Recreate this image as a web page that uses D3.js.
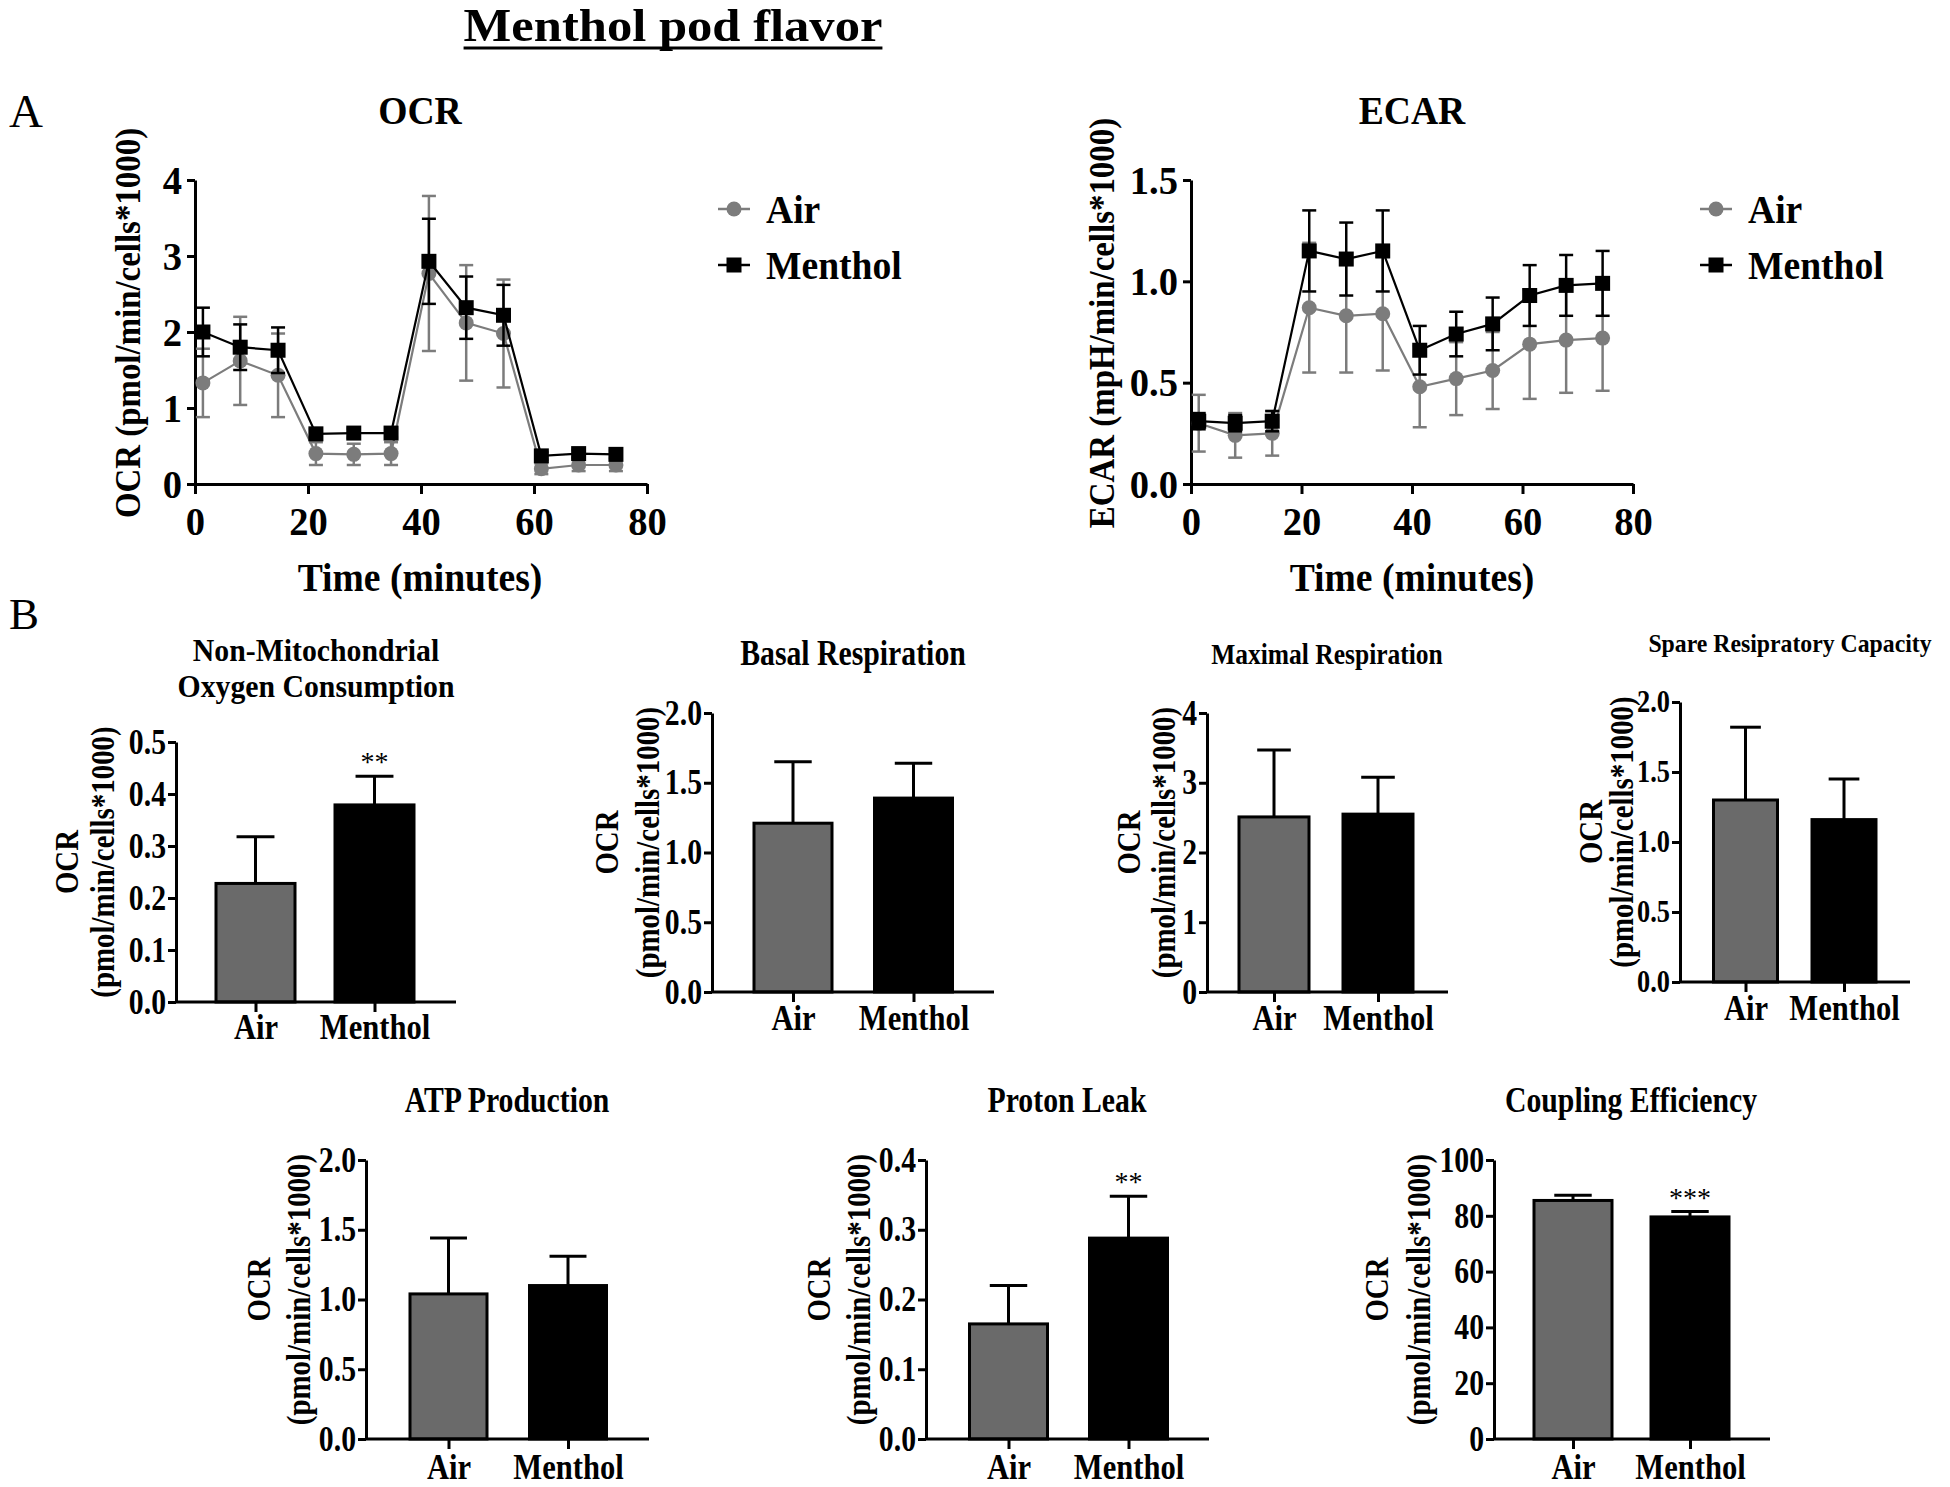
<!DOCTYPE html>
<html><head><meta charset="utf-8">
<script src="https://cdn.jsdelivr.net/npm/d3@7"></script>
<style>
html,body{margin:0;padding:0;background:#fff;}
svg text{font-family:"Liberation Serif","Times New Roman",serif;fill:#000;}
</style></head><body>
<svg id="c" width="1950" height="1487"></svg>
<script>
// ---------------- DATA ----------------
const groups = ["Air", "Menthol"];
const timePoints = [1.4, 8.0, 14.7, 21.4, 28.1, 34.7, 41.4, 48.0, 54.6, 61.3, 67.9, 74.5];
const timeTicks = [0, 20, 40, 60, 80];

const ocrAir        = [1.33, 1.62, 1.43, 0.40, 0.39, 0.40, 2.77, 2.12, 1.98, 0.20, 0.25, 0.25];
const ocrAirErr     = [0.45, 0.58, 0.55, 0.15, 0.14, 0.15, 1.02, 0.76, 0.71, 0.07, 0.08, 0.08];
const ocrMenthol    = [2.00, 1.80, 1.76, 0.66, 0.67, 0.67, 2.93, 2.32, 2.22, 0.37, 0.40, 0.39];
const ocrMentholErr = [0.32, 0.30, 0.30, 0.06, 0.06, 0.06, 0.56, 0.41, 0.40, 0.05, 0.05, 0.05];
const ocrTicks = [0, 1, 2, 3, 4];

const ecarAir        = [0.30, 0.24, 0.25, 0.87, 0.83, 0.84, 0.48, 0.52, 0.56, 0.69, 0.71, 0.72];
const ecarAirErr     = [0.14, 0.11, 0.11, 0.32, 0.28, 0.28, 0.20, 0.18, 0.19, 0.27, 0.26, 0.26];
const ecarMenthol    = [0.31, 0.30, 0.31, 1.15, 1.11, 1.15, 0.66, 0.74, 0.79, 0.93, 0.98, 0.99];
const ecarMentholErr = [0.04, 0.04, 0.05, 0.20, 0.18, 0.20, 0.12, 0.11, 0.13, 0.15, 0.15, 0.16];
const ecarTicks = [0, 0.5, 1.0, 1.5];

const barTitles = [["Non-Mitochondrial", "Oxygen Consumption"], ["Basal Respiration"], ["Maximal Respiration"],
                   ["Spare Resipratory Capacity"], ["ATP Production"], ["Proton Leak"], ["Coupling Efficiency"]];
const barAir        = [0.228, 1.21, 2.51, 1.30, 1.04, 0.165, 85.5];
const barAirErr     = [0.090, 0.44, 0.96, 0.52, 0.40, 0.055, 1.9];
const barMenthol    = [0.379, 1.39, 2.55, 1.16, 1.10, 0.288, 79.6];
const barMentholErr = [0.055, 0.25, 0.53, 0.29, 0.21, 0.060, 1.9];
const barTicks = [[0, 0.1, 0.2, 0.3, 0.4, 0.5], [0, 0.5, 1.0, 1.5, 2.0], [0, 1, 2, 3, 4], [0, 0.5, 1.0, 1.5, 2.0],
                  [0, 0.5, 1.0, 1.5, 2.0], [0, 0.1, 0.2, 0.3, 0.4], [0, 20, 40, 60, 80, 100]];
const barTickFmt = [".1f", ".1f", "d", ".1f", ".1f", ".1f", "d"];
const barSignif = ["**", "", "", "", "", "**", "***"];

// ---------------- LAYOUT ----------------
const airColor = "#7c7c7c", mentholColor = "#000", airFill = "#6a6a6a";
const lineLayouts = [
  {x0: 195, x1: 647, yb: 484, yt: 180, tx: 420, ty: 110, title: "OCR", ylx: 128, yly: 323,
   ylab: "OCR (pmol/min/cells*1000)", xlx: 420, xly: 577, legX: 734, legY: [209, 265]},
  {x0: 1191, x1: 1633, yb: 484, yt: 180, tx: 1412, ty: 110, title: "ECAR", ylx: 1102, yly: 323,
   ylab: "ECAR (mpH/min/cells*1000)", xlx: 1412, xly: 577, legX: 1716, legY: [209, 265]}
];
const barLayouts = [
  {ax: 176, xe: 456, tc: 316, c0: 255.5, c1: 374.5, bw: 79, yt: 742, yb: 1002, ty: [650, 686], tfs: 32, tk2: 0.93, ylx: [66, 102], tk: 35, lp: 1},
  {ax: 712, xe: 994, tc: 853, c0: 793, c1: 913.5, bw: 78, yt: 713, yb: 992, ty: [653], tfs: 35, tk2: 0.85, ylx: [606, 647], tk: 35, lp: 2},
  {ax: 1207, xe: 1448, tc: 1327, c0: 1274, c1: 1378, bw: 70, yt: 713, yb: 992, ty: [653], tfs: 30, tk2: 0.85, ylx: [1128, 1163], tk: 35, lp: 2},
  {ax: 1680, xe: 1910, tc: 1790, c0: 1745.5, c1: 1844, bw: 64, yt: 702, yb: 982, ty: [643], tfs: 25, tk2: 0.95, ylx: [1590, 1621], tk: 31, lp: 2},
  {ax: 366, xe: 649, tc: 507, c0: 448.5, c1: 568, bw: 77, yt: 1160, yb: 1439, ty: [1100], tfs: 35, tk2: 0.85, ylx: [258, 298], tk: 35, lp: 4},
  {ax: 926, xe: 1209, tc: 1067, c0: 1008.5, c1: 1128.5, bw: 78, yt: 1160, yb: 1439, ty: [1100], tfs: 35, tk2: 0.85, ylx: [818, 858], tk: 35, lp: 4},
  {ax: 1494, xe: 1770, tc: 1631, c0: 1573, c1: 1690, bw: 78, yt: 1160, yb: 1439, ty: [1100], tfs: 35, tk2: 0.85, ylx: [1376, 1418], tk: 35, lp: 4}
];

const svg = d3.select("#c");

// squeeze text horizontally (the figure's lettering is narrow); a text may carry its own factor in data-k
function condense(sel, k) {
  sel.selectAll("text").each(function () {
    const own = this.getAttribute("data-k");
    const f = own ? +own : k;
    const L = this.getComputedTextLength();
    if (L > 0 && f !== 1) {
      this.setAttribute("textLength", L * f);
      this.setAttribute("lengthAdjust", "spacingAndGlyphs");
    }
  });
}

// ---------------- HEADINGS ----------------
const mainTitle = svg.append("text").attr("x", 673).attr("y", 41).attr("text-anchor", "middle")
  .attr("font-size", 46).attr("font-weight", "bold").text("Menthol pod flavor");
const natural = mainTitle.node().getComputedTextLength();
const tl = natural * 1.1;
mainTitle.attr("textLength", tl).attr("lengthAdjust", "spacingAndGlyphs");
svg.append("line").attr("x1", 673 - tl / 2).attr("x2", 673 + tl / 2).attr("y1", 48).attr("y2", 48)
  .attr("stroke", "#000").attr("stroke-width", 3);
svg.append("text").attr("x", 9).attr("y", 111).attr("dominant-baseline", "central").attr("font-size", 47).text("A");
svg.append("text").attr("x", 9).attr("y", 614).attr("dominant-baseline", "central").attr("font-size", 45).text("B");

function styleAxis(g, fs) {
  g.selectAll("path.domain").attr("stroke", "#000").attr("stroke-width", 3);
  g.selectAll(".tick line").attr("stroke", "#000").attr("stroke-width", 3);
  g.selectAll(".tick text").attr("font-size", fs).attr("font-weight", "bold")
    .attr("font-family", '"Liberation Serif","Times New Roman",serif').attr("fill", "#000");
}

// ---------------- LINE CHARTS ----------------
const lineData = [
  [{name: "Air", v: ocrAir, e: ocrAirErr, color: airColor, shape: "circle"},
   {name: "Menthol", v: ocrMenthol, e: ocrMentholErr, color: mentholColor, shape: "square"}],
  [{name: "Air", v: ecarAir, e: ecarAirErr, color: airColor, shape: "circle"},
   {name: "Menthol", v: ecarMenthol, e: ecarMentholErr, color: mentholColor, shape: "square"}]
];
const lineTicks = [ocrTicks, ecarTicks];
const lineFmt = ["d", ".1f"];

function drawMarker(g, shape, cx, cy, color) {
  if (shape === "circle") g.append("circle").attr("cx", cx).attr("cy", cy).attr("r", 7.5).attr("fill", color);
  else g.append("rect").attr("x", cx - 7.5).attr("y", cy - 7.5).attr("width", 15).attr("height", 15).attr("fill", color);
}

lineLayouts.forEach((L, i) => {
  const ticks = lineTicks[i];
  const x = d3.scaleLinear().domain([0, 80]).range([L.x0, L.x1]);
  const y = d3.scaleLinear().domain([0, d3.max(ticks)]).range([L.yb, L.yt]);
  const g = svg.append("g");

  const gx = g.append("g").attr("transform", `translate(0,${L.yb})`)
    .call(d3.axisBottom(x).tickValues(timeTicks).tickFormat(d3.format("d")).tickSize(10).tickSizeOuter(0).tickPadding(12));
  styleAxis(gx, 41);
  const gy = g.append("g").attr("transform", `translate(${L.x0},0)`)
    .call(d3.axisLeft(y).tickValues(ticks).tickFormat(d3.format(lineFmt[i])).tickSize(8).tickSizeOuter(0).tickPadding(5));
  styleAxis(gy, 41);

  g.append("text").attr("x", L.tx).attr("y", L.ty).attr("text-anchor", "middle").attr("dominant-baseline", "central")
    .attr("font-size", 40).attr("font-weight", "bold").text(L.title);
  g.append("text").attr("transform", `translate(${L.ylx},${L.yly}) rotate(-90)`).attr("text-anchor", "middle")
    .attr("dominant-baseline", "central").attr("font-size", 35).attr("font-weight", "bold").text(L.ylab);
  g.append("text").attr("x", L.xlx).attr("y", L.xly).attr("text-anchor", "middle").attr("dominant-baseline", "central")
    .attr("font-size", 40).attr("font-weight", "bold").text("Time (minutes)");

  lineData[i].forEach((s, si) => {
    const sg = g.append("g");
    timePoints.forEach((t, k) => {
      const cx = x(t);
      sg.append("line").attr("x1", cx).attr("x2", cx).attr("y1", y(s.v[k] - s.e[k])).attr("y2", y(s.v[k] + s.e[k]))
        .attr("stroke", s.color).attr("stroke-width", 2.5);
      [s.v[k] - s.e[k], s.v[k] + s.e[k]].forEach(val => {
        sg.append("line").attr("x1", cx - 7).attr("x2", cx + 7).attr("y1", y(val)).attr("y2", y(val))
          .attr("stroke", s.color).attr("stroke-width", 2.5);
      });
    });
    sg.append("path").datum(timePoints.map((t, k) => [t, s.v[k]]))
      .attr("d", d3.line().x(d => x(d[0])).y(d => y(d[1])))
      .attr("fill", "none").attr("stroke", s.color).attr("stroke-width", 2.2);
    timePoints.forEach((t, k) => drawMarker(sg, s.shape, x(t), y(s.v[k]), s.color));

    const ly = L.legY[si];
    g.append("line").attr("x1", L.legX - 16).attr("x2", L.legX + 16).attr("y1", ly).attr("y2", ly)
      .attr("stroke", s.color).attr("stroke-width", 2.5);
    drawMarker(g, s.shape, L.legX, ly, s.color);
    g.append("text").attr("x", L.legX + 32).attr("y", ly).attr("dominant-baseline", "central")
      .attr("font-size", 40).attr("font-weight", "bold").text(s.name);
  });
  condense(g, 0.94);
});

// ---------------- BAR CHARTS ----------------
barLayouts.forEach((B, i) => {
  const g = svg.append("g");
  const ticks = barTicks[i];
  const y = d3.scaleLinear().domain([0, d3.max(ticks)]).range([B.yb, B.yt]);
  const x = d3.scalePoint().domain(groups).range([B.c0, B.c1]);
  const means = [barAir[i], barMenthol[i]];
  const errs = [barAirErr[i], barMentholErr[i]];
  const fills = [airFill, "#000"];

  groups.forEach((grp, k) => {
    const cx = x(grp);
    const top = y(means[k]), etop = y(means[k] + errs[k]);
    const cw = B.bw * 0.48;
    g.append("line").attr("x1", cx).attr("x2", cx).attr("y1", top).attr("y2", etop).attr("stroke", "#000").attr("stroke-width", 3);
    g.append("line").attr("x1", cx - cw / 2).attr("x2", cx + cw / 2).attr("y1", etop).attr("y2", etop).attr("stroke", "#000").attr("stroke-width", 3);
    g.append("rect").attr("x", cx - B.bw / 2).attr("y", top).attr("width", B.bw).attr("height", y(0) - top)
      .attr("fill", fills[k]).attr("stroke", "#000").attr("stroke-width", 3);
    if (k === 1 && barSignif[i]) {
      g.append("text").attr("x", cx).attr("y", etop - 5).attr("text-anchor", "middle")
        .attr("font-size", 28).attr("data-k", 1).text(barSignif[i]);
    }
  });

  const gy = g.append("g").attr("transform", `translate(${B.ax},0)`)
    .call(d3.axisLeft(y).tickValues(ticks).tickFormat(d3.format(barTickFmt[i])).tickSize(8).tickSizeOuter(0).tickPadding(2));
  styleAxis(gy, B.tk);
  g.append("line").attr("x1", B.ax).attr("x2", B.xe).attr("y1", B.yb).attr("y2", B.yb).attr("stroke", "#000").attr("stroke-width", 3);
  const gx = g.append("g").attr("transform", `translate(0,${B.yb})`)
    .call(d3.axisBottom(x).tickSize(10).tickSizeOuter(0).tickPadding(B.lp));
  gx.select("path.domain").remove();
  styleAxis(gx, 36);

  barTitles[i].forEach((t, li) => {
    g.append("text").attr("x", B.tc).attr("y", B.ty[li]).attr("text-anchor", "middle")
      .attr("dominant-baseline", "central").attr("font-size", B.tfs).attr("font-weight", "bold")
      .attr("data-k", B.tk2).text(t);
  });
  const yc = (B.yt + B.yb) / 2 - 10;
  ["OCR", "(pmol/min/cells*1000)"].forEach((t, li) => {
    g.append("text").attr("transform", `translate(${B.ylx[li]},${yc}) rotate(-90)`).attr("text-anchor", "middle")
      .attr("dominant-baseline", "central").attr("font-size", 34).attr("font-weight", "bold").text(t);
  });
  condense(g, 0.85);
});
</script>
</body></html>
